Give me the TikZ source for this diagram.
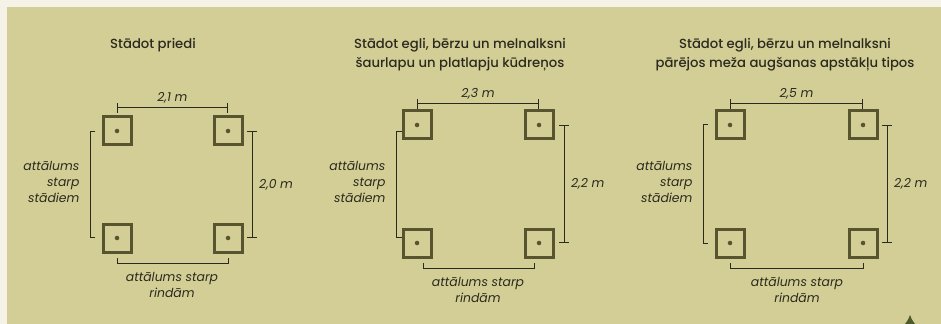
\documentclass[tikz,border=0pt]{standalone}
\usepackage{fontspec}
\setmainfont{Poppins}[ItalicFont={Poppins Italic}]
\newfontfamily\titlefont{Poppins Medium}
\definecolor{paper}{HTML}{F5F2E7}
\definecolor{khaki}{HTML}{D3CE95}
\definecolor{bark}{HTML}{57542F}
\definecolor{ink}{HTML}{2B2A1F}
\definecolor{needle}{HTML}{4E5A29}

\begin{document}
\begin{tikzpicture}[x=0.75pt, y=-0.75pt,
	plant/.style={draw=bark, line width=2.25pt, minimum size=21pt, inner sep=0pt,
		path picture={\fill[bark] (path picture bounding box.center) circle (1.7pt);}},
	title/.style={text=ink, font=\titlefont\fontsize{9.9}{14.25}\selectfont, align=center},
	dim/.style={draw=ink, line width=0.75pt},
	lbl/.style={text=ink, font=\fontsize{9.3}{12}\selectfont\itshape, inner sep=1pt}]
				% background
				\fill[paper] (0,0) rectangle (941,324);
				\fill[khaki] (7,7) rectangle (941,324);
				\fill[needle] (905,324) .. controls (908,320) and (909,318) .. (910,315) .. controls (911,318) and (912,320) .. (915,324) -- cycle;
				% Stādot priedi
				\node[title] (t1) at (153,45) {Stādot priedi};
				\node[plant] (p1a) at (117,131) {};
				\node[plant] (p1b) at (228,131) {};
				\node[plant] (p1c) at (117,238) {};
				\node[plant] (p1d) at (228,238) {};
				\draw[dim, |-|] (p1a |- 0,108) -- node[lbl, above=2pt] {2,1 m} (p1b |- 0,108);
				\draw[dim, |-|] (252,0 |- p1b) -- node[lbl, right=4pt] {2,0 m} (252,0 |- p1d);
				\draw[dim] (95,132) -- (90,132) -- (90,237) -- (95,237);
				\node[lbl, anchor=east, align=right] (s1) at (81,182) {attālums\\starp\\stādiem};
				\draw[dim] (p1c |- 0,258) -- (p1c |- 0,263) -- (p1d |- 0,263) -- (p1d |- 0,258);
				\node[lbl, align=center] (r1) at (172,285) {attālums starp\\rindām};
				% šaurlapu un platlapju kūdreņos
				\node[title] (t2) at (460,54.5) {Stādot egli, bērzu un melnalksni\\šaurlapu un platlapju kūdreņos};
				\node[plant] (p2a) at (417,125) {};
				\node[plant] (p2b) at (539,125) {};
				\node[plant] (p2c) at (417,243) {};
				\node[plant] (p2d) at (539,243) {};
				\draw[dim, |-|] (p2a |- 0,104) -- node[lbl, above=2pt] {2,3 m} (p2b |- 0,104);
				\draw[dim, |-|] (564,0 |- p2b) -- node[lbl, right=4pt] {2,2 m} (564,0 |- p2d);
				\draw[dim] (p2a.west |- 0,132) -- (396,132) -- (396,237) -- (p2c.west |- 0,237);
				\node[lbl, anchor=east, align=right] (s2) at (387,182) {attālums\\starp\\stādiem};
				\draw[dim] (423,263) -- (423,268) -- (534,268) -- (534,263);
				\node[lbl, align=center] (r2) at (478,289.5) {attālums starp\\rindām};
				% pārējos meža augšanas apstākļu tipos
				\node[title] (t3) at (785,54.5) {Stādot egli, bērzu un melnalksni\\pārējos meža augšanas apstākļu tipos};
				\node[plant] (p3a) at (730,125) {};
				\node[plant] (p3b) at (863,125) {};
				\node[plant] (p3c) at (730,243) {};
				\node[plant] (p3d) at (863,243) {};
				\draw[dim, |-|] (p3a |- 0,104) -- node[lbl, above=2pt] {2,5 m} (p3b |- 0,104);
				\draw[dim, |-|] (887,0 |- p3b) -- node[lbl, right=4pt] {2,2 m} (887,0 |- p3d);
				\draw[dim] (708,0 |- p3a) -- (703,0 |- p3a) -- (703,0 |- p3c) -- (708,0 |- p3c);
				\node[lbl, anchor=east, align=right] (s3) at (694,182) {attālums\\starp\\stādiem};
				\draw[dim] (p3c |- 0,263) -- (p3c |- 0,268) -- (p3d |- 0,268) -- (p3d |- 0,263);
				\node[lbl, align=center] (r3) at (797,289.5) {attālums starp\\rindām};
			\end{tikzpicture}
\end{document}
